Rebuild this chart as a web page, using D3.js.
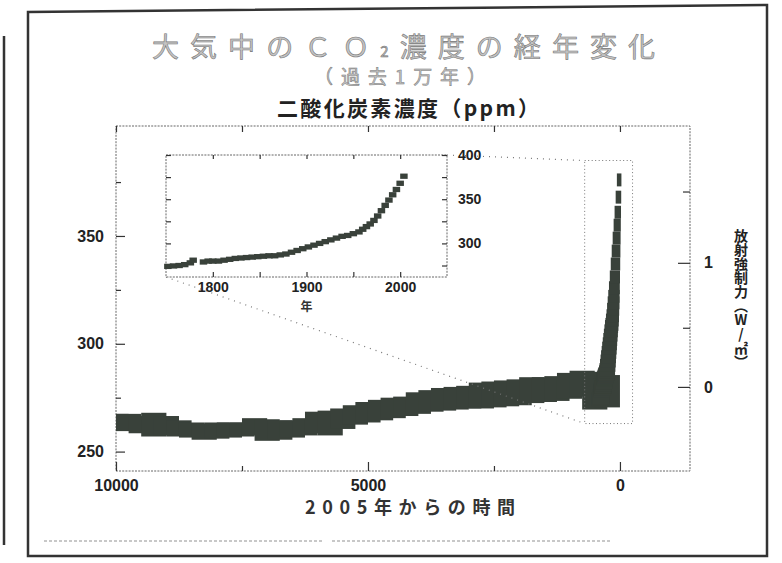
<!DOCTYPE html>
<html>
<head>
<meta charset="utf-8">
<script src="https://cdn.jsdelivr.net/npm/d3@7"></script>
<style>
  body { margin: 0; background: #fff; }
  svg { display: block; font-family: "Liberation Sans", Arial, sans-serif; }
  .jp { font-family: "Noto Sans CJK JP", sans-serif; }
  .tick line { stroke: #333; stroke-width: 1.2; }
  .tick text { font-weight: bold; fill: #222; }
</style>
</head>
<body>
<svg id="chart" width="782" height="563"></svg>
<script>
// 氷床コア: 2005年からの年数と CO2 濃度 (ppm), 上側と下側の2系列
const iceAges = [10000, 9750, 9500, 9250, 9000, 8750, 8500, 8250, 8000, 7750, 7500, 7250, 7000, 6750, 6500,
  6250, 6000, 5750, 5500, 5250, 5000, 4750, 4500, 4250, 4000, 3750, 3500, 3250, 3000, 2750, 2500, 2250,
  2000, 1750, 1500, 1250, 1000, 750, 500, 250];
const iceHigh = [265, 265, 264, 265.5, 264, 262, 261, 260.5, 261, 261, 261, 263, 262.5, 262, 262,
  263, 266, 266.5, 267.5, 269, 270.5, 271.5, 272.5, 273, 275, 276, 277, 277.5, 278, 279.5, 280, 280.5,
  281, 282, 282, 282.5, 284, 285, 284.5, 283];
const iceLow = [263, 262, 261, 259.5, 260, 259.5, 259, 258, 258.5, 259, 259.5, 260, 257.5, 258, 259,
  260, 261, 260, 263, 265, 266, 267, 268, 269, 270, 271, 271.5, 272, 272.5, 272.5, 273, 273.5,
  274, 275, 275.5, 276, 277, 278, 272, 273];

// 1750年以降 (拡大図)
const recentYears = [1752, 1758, 1764, 1770, 1776, 1779, 1790, 1795, 1800, 1806, 1812, 1818, 1824, 1830,
  1836, 1842, 1848, 1854, 1860, 1866, 1872, 1878, 1884, 1890, 1896, 1902, 1908, 1914, 1920, 1926, 1932,
  1938, 1944, 1950, 1956, 1960, 1964, 1968, 1972, 1976, 1980, 1984, 1988, 1992, 1996, 2000, 2004];
const recentPpm = [274, 274.5, 275, 276, 278, 281, 279, 280, 280, 280, 281, 282, 283, 283.5,
  284, 284.5, 285, 285.5, 286, 286, 287, 288, 290, 292, 294, 296, 298, 300, 302, 304, 306,
  308, 309, 311, 313, 316, 319, 322, 326, 331, 337, 343, 349, 355, 361, 368, 376];

const ageTicks = [10000, 7500, 5000, 2500, 0];
const ageLabels = [10000, 5000, 0];
const ppmTicks = [250, 275, 300, 325, 350, 375];
const ppmLabels = [250, 300, 350];
const forcingTicks = [0, 0.5, 1, 1.5];
const forcingLabels = [0, 1];
const yearTicks = [1800, 1850, 1900, 1950, 2000];
const yearLabels = [1800, 1900, 2000];
const insetPpmTicks = [275, 300, 325, 350, 375, 400];
const insetPpmLabels = [300, 350, 400];

// 拡大範囲 (年数, ppm)
const zoomAges = [700, -250];
const zoomPpm = [263, 385];

const baseYear = 2005;
const forcingToPpm = f => 280 * Math.exp(f / 5.35);

const svg = d3.select('#chart');
const ink = '#39413a';

// 外枠
svg.append('path')
  .attr('d', 'M28,556 L28,12 L767,5 L767,556 Z')
  .attr('fill', 'none').attr('stroke', '#333').attr('stroke-width', 2.5);
svg.append('line')
  .attr('x1', 4).attr('y1', 36).attr('x2', 4).attr('y2', 545)
  .attr('stroke', '#333').attr('stroke-width', 2.5);

// タイトル
const title = svg.append('text').attr('class', 'jp')
  .attr('x', 152).attr('y', 57)
  .attr('textLength', 503).attr('lengthAdjust', 'spacing')
  .attr('font-size', 27).attr('fill', '#c4c4c4').attr('stroke', '#777').attr('stroke-width', 0.6);
title.append('tspan').text('大気中のＣＯ');
title.append('tspan').attr('font-size', 15).text('2');
title.append('tspan').text('濃度の経年変化');

svg.append('text').attr('class', 'jp')
  .attr('x', 314).attr('y', 84)
  .attr('textLength', 172).attr('lengthAdjust', 'spacing')
  .attr('font-size', 19).attr('fill', '#c4c4c4').attr('stroke', '#777').attr('stroke-width', 0.5)
  .text('（過去1万年）');

svg.append('text').attr('class', 'jp')
  .attr('x', 277).attr('y', 116)
  .attr('textLength', 262).attr('lengthAdjust', 'spacing')
  .attr('font-size', 21).attr('font-weight', 'bold').attr('fill', '#222')
  .text('二酸化炭素濃度（ppm）');

// 主グラフ
const x = d3.scaleLinear().domain([10000, -1390]).range([116, 690]);
const y = d3.scaleLinear().domain([241, 401]).range([471, 126]);

const frameStyle = sel => sel.attr('fill', 'none').attr('stroke', '#666')
  .attr('stroke-width', 1).attr('stroke-dasharray', '2,1.2');

svg.append('rect')
  .attr('x', x.range()[0]).attr('y', y.range()[1])
  .attr('width', x.range()[1] - x.range()[0]).attr('height', y.range()[0] - y.range()[1])
  .call(frameStyle);

const axisG = (axis, tx, ty) => {
  const g = svg.append('g').attr('transform', `translate(${tx},${ty})`).call(axis);
  g.select('.domain').remove();
  return g;
};

// 左軸 (ppm)
axisG(d3.axisLeft(y).tickValues(ppmLabels).tickSize(-9).tickPadding(12), x.range()[0], 0)
  .selectAll('text').attr('font-size', 16);
axisG(d3.axisLeft(y).tickValues(ppmTicks.filter(v => !ppmLabels.includes(v))).tickSize(-5).tickFormat(''), x.range()[0], 0);

// 右軸 (放射強制力)
axisG(d3.axisRight(y).tickValues(forcingLabels.map(forcingToPpm)).tickSize(-12).tickPadding(14)
  .tickFormat(v => d3.format('d')(Math.round(5.35 * Math.log(v / 280)))), x.range()[1], 0)
  .selectAll('text').attr('font-size', 16);
axisG(d3.axisRight(y).tickValues(forcingTicks.filter(v => !forcingLabels.includes(v)).map(forcingToPpm))
  .tickSize(-7).tickFormat(''), x.range()[1], 0);

// 下軸・上軸 (年数)
axisG(d3.axisBottom(x).tickValues(ageLabels).tickSize(-9).tickPadding(9).tickFormat(d3.format('d')), 0, y.range()[0])
  .selectAll('text').attr('font-size', 16);
axisG(d3.axisBottom(x).tickValues(ageTicks.filter(v => !ageLabels.includes(v))).tickSize(-5).tickFormat(''), 0, y.range()[0]);
axisG(d3.axisTop(x).tickValues(ageTicks).tickSize(-6).tickFormat(''), 0, y.range()[1]);

svg.append('text').attr('class', 'jp')
  .attr('x', 305).attr('y', 514)
  .attr('textLength', 210).attr('lengthAdjust', 'spacing')
  .attr('font-size', 18).attr('font-weight', 'bold').attr('fill', '#333')
  .text('2005年からの時間');

svg.append('text').attr('class', 'jp')
  .attr('x', 741).attr('y', 299)
  .attr('font-size', 14).attr('font-weight', 'bold').attr('fill', '#222')
  .attr('text-anchor', 'middle')
  .style('writing-mode', 'vertical-rl').style('text-orientation', 'upright')
  .text('放射強制力（W/㎡）');

// 氷床コアのデータ: 上側と下側の系列の間を塗る帯
const plot = svg.append('g');
plot.selectAll('rect.ice')
  .data(iceAges.map((a, i) => ({ age: a, high: iceHigh[i], low: iceLow[i] })))
  .enter()
  .append('rect')
  .attr('class', 'ice')
  .attr('x', d => x(Math.min(d.age + 250, 10000)))
  .attr('width', d => x(d.age - 250) - x(Math.min(d.age + 250, 10000)))
  .attr('y', d => y(d.high + 2.5))
  .attr('height', d => y(d.low - 2.5) - y(d.high + 2.5))
  .attr('fill', ink);

// 1750年以降: 年代の幅は濃度が上がるほど細く描く
const recentData = recentYears.map((yr, i) => ({ year: yr, age: baseYear - yr, ppm: recentPpm[i] }));
const ageSpan = d => Math.max(60, 300 - (d.ppm - 280) * 2.5);
plot.selectAll('rect.recent')
  .data(recentData)
  .enter()
  .append('rect')
  .attr('class', 'recent')
  .attr('x', d => x(d.age + ageSpan(d)))
  .attr('width', d => x(d.age - 30) - x(d.age + ageSpan(d)))
  .attr('y', d => y(d.ppm + 3))
  .attr('height', d => y(d.ppm - 3) - y(d.ppm + 3))
  .attr('fill', ink);

// 拡大範囲の枠
svg.append('rect')
  .attr('x', x(zoomAges[0])).attr('y', y(zoomPpm[1]))
  .attr('width', x(zoomAges[1]) - x(zoomAges[0])).attr('height', y(zoomPpm[0]) - y(zoomPpm[1]))
  .attr('fill', 'none').attr('stroke', '#777').attr('stroke-width', 1).attr('stroke-dasharray', '1,2.5');

// 拡大図
const ix = d3.scaleLinear().domain([1750, 2050]).range([166, 447]);
const iy = d3.scaleLinear().domain([262, 400]).range([277, 155]);

const connector = (x1, y1, x2, y2) => svg.append('line')
  .attr('x1', x1).attr('y1', y1).attr('x2', x2).attr('y2', y2)
  .attr('stroke', '#777').attr('stroke-width', 1.2).attr('stroke-dasharray', '1,5');
connector(ix.range()[0], iy.range()[0], x(zoomAges[0]), y(zoomPpm[0]));
connector(ix.range()[1], iy.range()[1], x(zoomAges[0]), y(zoomPpm[1]));

svg.append('rect')
  .attr('x', ix.range()[0]).attr('y', iy.range()[1])
  .attr('width', ix.range()[1] - ix.range()[0]).attr('height', iy.range()[0] - iy.range()[1])
  .attr('fill', '#fff');
svg.append('rect')
  .attr('x', ix.range()[0]).attr('y', iy.range()[1])
  .attr('width', ix.range()[1] - ix.range()[0]).attr('height', iy.range()[0] - iy.range()[1])
  .call(frameStyle);

axisG(d3.axisRight(iy).tickValues(insetPpmTicks).tickSize(-5).tickPadding(11)
  .tickFormat(v => insetPpmLabels.includes(v) ? v : ''), ix.range()[1], 0)
  .selectAll('text').attr('font-size', 14);
axisG(d3.axisLeft(iy).tickValues(insetPpmTicks).tickSize(-5).tickFormat(''), ix.range()[0], 0);
axisG(d3.axisBottom(ix).tickValues(yearTicks).tickSize(-5).tickPadding(5)
  .tickFormat(v => yearLabels.includes(v) ? v : ''), 0, iy.range()[0])
  .selectAll('text').attr('font-size', 14);
axisG(d3.axisTop(ix).tickValues(yearTicks).tickSize(-4).tickFormat(''), 0, iy.range()[1]);

svg.append('text').attr('class', 'jp')
  .attr('x', ix(1900)).attr('y', 311)
  .attr('text-anchor', 'middle')
  .attr('font-size', 12).attr('font-weight', 'bold').attr('fill', '#333')
  .text('年');

svg.append('g').selectAll('rect')
  .data(recentData)
  .enter()
  .append('rect')
  .attr('x', d => ix(d.year - 4))
  .attr('width', d => ix(d.year + 4) - ix(d.year - 4))
  .attr('y', d => iy(d.ppm + 3))
  .attr('height', d => iy(d.ppm - 3) - iy(d.ppm + 3))
  .attr('fill', ink);

// 下部の薄い注記 (判読不能なためかすれた線で表現)
svg.append('line')
  .attr('x1', 44).attr('y1', 541).attr('x2', 322).attr('y2', 541)
  .attr('stroke', '#c8c8c8').attr('stroke-width', 2).attr('stroke-dasharray', '3,2');
svg.append('line')
  .attr('x1', 332).attr('y1', 541).attr('x2', 610).attr('y2', 541)
  .attr('stroke', '#c8c8c8').attr('stroke-width', 2).attr('stroke-dasharray', '3,2');
</script>
</body>
</html>
